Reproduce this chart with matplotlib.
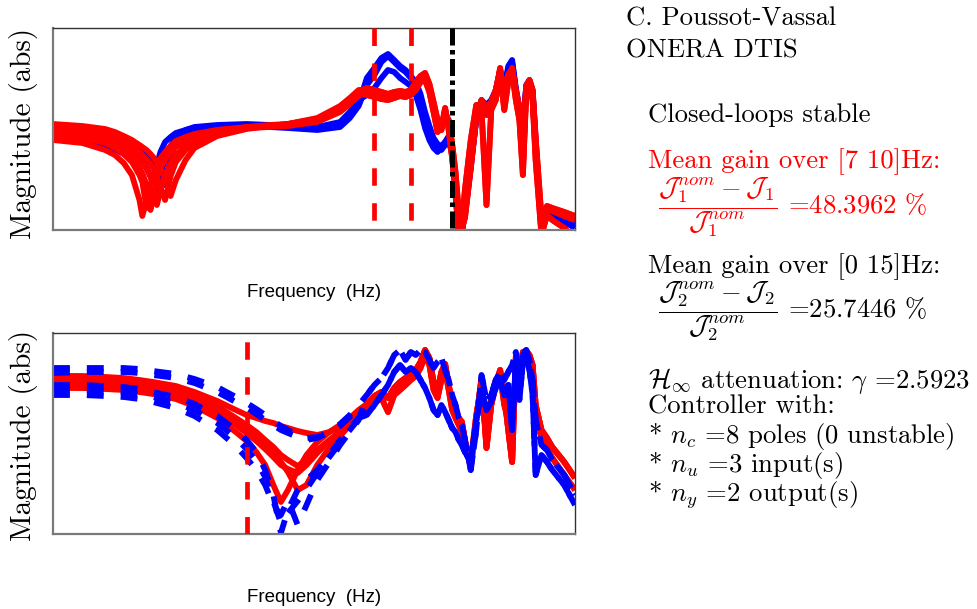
import numpy as np
import matplotlib
matplotlib.use("Agg")
import matplotlib.pyplot as plt

plt.rcParams['mathtext.fontset'] = 'cm'
plt.rcParams['axes.unicode_minus'] = False

# ---------------- data (magnitudes in dB, converted to abs) ----------------
F_LO_TOP = [0.3, 0.4, 0.5, 0.55, 0.6, 0.65, 0.7, 0.72, 0.75, 0.78, 0.8, 0.83, 0.86,
            0.9, 0.95, 1.0, 1.1, 1.2, 1.5, 2, 2.5, 3, 4, 5, 5.5, 6]
F_LO_BOT = [0.3, 0.4, 0.5, 0.6, 0.7, 0.8, 1.0, 1.2, 1.5, 1.8, 2.0, 2.2, 2.4, 2.6, 2.8,
            3.0, 3.3, 3.6, 4.0, 4.5, 5, 5.5, 6]
F_HI = [6.5, 7, 7.5, 8, 8.5, 9, 9.5, 10, 10.5, 11, 11.5, 12, 12.5, 13, 13.5, 14, 14.5,
        15, 15.5, 16, 16.5, 17, 18, 19, 20, 21, 22, 23, 24, 25, 26, 27, 28, 29, 30, 31,
        32, 33, 34, 36, 38, 40, 45, 50]

# top panel, closed-loop (red) low-frequency parts
top_red_lo_a = [-56, -57.5, -61, -63.5, -67.5, -73.5, -86, -94, -86, -78.5, -74, -69, -65,
                -62, -59, -56.5, -54.5, -53, -51, -50, -49.5, -49, -47, -42, -38, -34]
top_red_lo_b = [-53.5, -55, -57.5, -60, -63, -67, -73.5, -77, -90, -81, -76, -71, -67.5,
                -64.5, -61, -58.5, -55.5, -53.5, -51, -49.5, -49, -48.5, -46, -41, -37, -33]
top_red_lo_c = [-51, -52, -54.5, -56.5, -59, -62, -66, -67.5, -70, -74.5, -78.5, -88.5, -81,
                -73.5, -67.5, -63.5, -59, -56, -52, -49.5, -48.5, -48, -45.5, -40, -36, -32]
top_red_lo_d = [-48, -49, -50.5, -52, -54, -56, -58.5, -59.5, -61, -63, -64.5, -67, -70,
                -75, -84, -76, -66, -60, -54, -50.5, -49, -48, -45, -39, -35, -31]
top_red_lo_e = [-52, -53.5, -56, -58, -61, -64.5, -70, -72.5, -78.5, -91, -83.5, -75, -70,
                -66, -62.5, -59.5, -56.5, -54.5, -51.5, -50, -49, -48.5, -46, -40.5, -36.5, -32.5]
top_red_lo_f = [-49.5, -50.5, -52.5, -54, -56.5, -59, -62, -63.5, -65.5, -68, -70, -74, -80,
                -86, -74, -67, -61, -57.5, -52.5, -50, -49, -48, -45.5, -39.5, -35.5, -31.5]
# top panel, nominal (blue) low-frequency parts
top_blue_lo_a = [-55, -56, -58.5, -60.5, -63, -66, -71, -73.5, -78.5, -86, -78.5, -68.5, -62,
                 -57, -54.5, -52.5, -51, -50, -49, -49, -49.5, -50, -51, -49.5, -45, -39]
top_blue_lo_b = [-50, -51, -52.5, -54, -55.5, -57.5, -60, -61, -62.5, -64.5, -66, -68.5, -71.5,
                 -78.5, -65, -55, -51, -49.5, -48.5, -48, -48.5, -49, -49.5, -47, -42, -36]
top_blue_lo_c = [-52.5, -53.5, -55.5, -57, -59, -61.5, -65, -67, -70, -74, -77, -82, -73.5,
                 -65, -59, -55, -52, -50.5, -49, -48.5, -49, -49.5, -50.5, -48.5, -44, -38]
# top panel high-frequency parts
top_red_hi_1 = [-31, -32.5, -33.5, -34.5, -33.5, -32.5, -33, -32, -28.5, -25, -23.5, -30, -40,
                -49.5, -51, -41, -48.5, -61, -75, -97, -103.5, -88.5, -61, -41, -37, -43.5,
                -39, -33.5, -20, -36, -25, -20, -33.5, -43.5, -68.5, -30, -27, -33.5, -61,
                -100, -90, -91.5, -94, -96]
top_red_hi_2 = [-33.5, -34.5, -35.5, -36, -35, -34, -34.5, -33.5, -31, -27, -26, -32, -42,
                -52, -50, -40, -51, -65, -81, -103.5, -98.5, -81, -56, -38.5, -41, -88.5,
                -41, -36, -22, -41, -27, -22, -36, -46, -73.5, -32, -29, -36, -66, -103.5,
                -93.5, -96, -100, -106]
top_red_hi_3 = [-30, -31, -32, -33, -32, -31.5, -32, -31, -27, -24, -22.5, -28, -37, -46, -49,
                -43, -46, -58, -72, -92, -100, -95, -70, -45, -36, -40, -37, -31, -21, -33,
                -23, -21, -31, -40, -60, -29, -26, -31, -55, -95, -89, -90, -92, -94]
top_blue_hi_1 = [-28.5, -23.5, -17, -14, -17, -20, -22, -25, -28.5, -36, -45, -52, -57, -60,
                 -61, -58.5, -56, -63.5, -83.5, -103.5, -98.5, -91, -66, -43.5, -36, -38.5,
                 -36, -31, -21, -30, -19, -16, -30, -40, -51, -28.5, -26, -31, -56, -102.5,
                 -92, -93, -95.5, -98]
top_blue_hi_2 = [-33.5, -30, -25, -21, -22, -25, -27, -29, -33.5, -41, -50, -56, -60, -62,
                 -60, -57, -55, -61, -78.5, -100, -102, -93.5, -68.5, -46, -38, -40, -37.5,
                 -33.5, -23, -33.5, -21, -18, -32, -42, -56, -30, -27.5, -33.5, -61, -98.5,
                 -93.5, -94.5, -97, -100]
top_blue_hi_3 = [-25, -20, -15, -13, -16, -19, -21, -24, -27, -33, -42, -49, -55, -58, -59,
                 -57, -54, -60, -80, -100, -101, -92, -70, -45, -37, -39, -37, -32, -22, -31,
                 -20, -17, -31, -41, -54, -29, -26.5, -32, -58, -100, -92.5, -93.5, -96, -99]

# bottom panel low-frequency parts
bot_red_lo_a = [-21.5, -21.5, -22, -22.5, -23.5, -24.5, -26.5, -29.5, -34, -38.5, -41, -42.5,
                -44, -45, -46.5, -47.5, -49, -50, -51, -49.5, -47, -43.5, -39.5]
bot_red_lo_b = [-24.5, -24.5, -25, -25.5, -26.5, -27.5, -30, -33.5, -39.5, -45, -48.5, -52,
                -56, -60, -64.5, -69.5, -78.5, -76, -66, -57.5, -51.5, -46, -41.5]
bot_red_lo_c = [-27.5, -27.5, -28, -28.5, -29.5, -30.5, -33, -36.5, -42.5, -49.5, -54, -59.5,
                -66, -76, -84.5, -78.5, -68.5, -61, -54.5, -49.5, -46, -42.5, -38.5]
bot_red_lo_d = [-23, -23, -23.5, -24, -25, -26, -28, -31.5, -36.5, -42.5, -46, -49.5, -53.5,
                -57, -61, -63.5, -66.5, -63.5, -58.5, -53.5, -49.5, -45.5, -41]
bot_red_lo_e = [-25.5, -25.5, -26, -26.5, -27.5, -28.5, -31, -34.5, -40, -46, -50, -54, -58,
                -62, -66, -68, -70, -66, -60, -54, -49.5, -45, -40.5]
bot_blue_lo_a = [-20, -19.5, -19.5, -19.5, -20, -21, -22.5, -25, -29.5, -34.5, -37.5, -40.5,
                 -43.5, -46, -48.5, -50, -52, -53.5, -52.5, -49.5, -45.5, -41, -36]
bot_blue_lo_b = [-26, -26, -26.5, -27, -28, -29.5, -32, -35.5, -41.5, -48.5, -53.5, -59.5,
                 -68.5, -81, -100, -88.5, -78.5, -73.5, -68.5, -61, -53.5, -47.5, -42.5]
bot_blue_lo_c = [-31, -31, -31.5, -32, -33, -34.5, -37.5, -41.5, -48.5, -56.5, -62.5, -68.5,
                 -76, -86, -91, -83.5, -96, -86, -73.5, -64.5, -56, -49.5, -43.5]
bot_blue_lo_d = [-17.5, -17.5, -17.5, -17.5, -18, -19, -20.5, -23, -27, -32, -35, -38, -41,
                 -44, -46.5, -48.5, -51, -52.5, -52, -50, -46.5, -42, -37]
bot_blue_lo_e = [-28.5, -28.5, -29, -29.5, -30.5, -32, -35, -38.5, -45, -52.5, -58, -64,
                 -72, -84, -95, -90, -84, -78, -70, -62, -55, -48.5, -43]
# bottom panel high-frequency parts
bot_red_hi_1 = [-35.5, -31.5, -29.5, -32.5, -27.5, -24.5, -22.5, -20.5, -18.5, -14.5, -8.5,
                -12.5, -24.5, -28.5, -19.5, -15.5, -26, -35, -38.5, -42.5, -44.5, -53.5,
                -67.5, -43.5, -22.5, -57.5, -36, -26, -18.5, -31, -48.5, -64.5, -12, -21,
                -9.5, -9, -11, -16, -36, -48.5, -52.5, -57, -64.5, -72.5]
bot_red_hi_2 = [-38.5, -34.5, -32.5, -39.5, -31, -28.5, -26, -23.5, -21.5, -17.5, -11.5, -16,
                -28.5, -32.5, -23.5, -18.5, -28.5, -38.5, -42.5, -46, -49.5, -57.5, -64.5,
                -41, -26, -53.5, -32.5, -23.5, -21, -36, -43.5, -53.5, -16, -18.5, -12, -11,
                -13.5, -21, -41, -52.5, -57.5, -62.5, -71, -78.5]
bot_blue_hi_1 = [-31, -26, -22.5, -17.5, -11, -8.5, -13.5, -9.5, -11, -8.5, -9.5, -13.5,
                 -17.5, -14.5, -12.5, -18.5, -23.5, -31, -36, -42.5, -46, -53.5, -68.5,
                 -48.5, -21, -33.5, -31, -23.5, -19.5, -23.5, -19.5, -16, -9.5, -28.5, -11,
                 -8.5, -13.5, -23.5, -43.5, -56, -58.5, -63.5, -71, -81]
bot_blue_hi_2 = [-41, -36, -31, -26, -19.5, -16, -19.5, -17.5, -19.5, -23.5, -27.5, -32.5,
                 -38.5, -41, -36, -39.5, -43.5, -47.5, -49.5, -53.5, -56, -59.5, -64.5,
                 -43.5, -28.5, -38.5, -34.5, -27.5, -23.5, -31, -26, -48.5, -14.5, -33.5,
                 -14.5, -12.5, -18.5, -31, -71, -61, -64.5, -68.5, -76, -86]

BAND_TOP = [7, 10]      # Hz, red dashed
LIMIT_TOP = 15          # Hz, black dash-dot
BAND_BOT = [2]          # Hz, red dashed
XLIM = (0.3, 50)
YLIM_TOP_DB = (-101, 0)
YLIM_BOT_DB = (-100.5, 0)

TEXT_LINES = {
    'author': 'C. Poussot-Vassal',
    'lab': 'ONERA DTIS',
    'stable': 'Closed-loops stable',
    'gain1': 'Mean gain over [7 10]Hz:',
    'frac1': r'$\dfrac{\mathcal{J}_1^{nom}-\mathcal{J}_1}{\mathcal{J}_1^{nom}}$ =48.3962 %',
    'gain2': 'Mean gain over [0 15]Hz:',
    'frac2': r'$\dfrac{\mathcal{J}_2^{nom}-\mathcal{J}_2}{\mathcal{J}_2^{nom}}$ =25.7446 %',
    'hinf': r'$\mathcal{H}_\infty$ attenuation: $\gamma$ =2.5923',
    'ctrl': 'Controller with:',
    'nc': r'* $n_c$ =8 poles (0 unstable)',
    'nu': r'* $n_u$ =3 input(s)',
    'ny': r'* $n_y$ =2 output(s)',
}


def to_abs(db):
    return 10 ** (np.asarray(db, dtype=float) / 20.0)


W, H = 978, 609
fig = plt.figure(figsize=(W / 100, H / 100), dpi=100)


def px_axes(l, t, r, b):
    return fig.add_axes([l / W, 1 - b / H, (r - l) / W, (b - t) / H])


ax1 = px_axes(53, 28, 575, 230)
ax2 = px_axes(53, 333, 575, 534)

LW = 4.2
RED = '#ff0000'
BLUE = '#0000ff'

# top panel: nominal (blue) first, then closed-loop (red)
top_blue = [(top_blue_lo_a, top_blue_hi_1), (top_blue_lo_b, top_blue_hi_2),
            (top_blue_lo_c, top_blue_hi_3)]
top_red = [(top_red_lo_a, top_red_hi_1), (top_red_lo_b, top_red_hi_2),
           (top_red_lo_c, top_red_hi_3), (top_red_lo_d, top_red_hi_1),
           (top_red_lo_e, top_red_hi_2), (top_red_lo_f, top_red_hi_3)]
f_top = F_LO_TOP + F_HI
for lo, hi in top_blue:
    ax1.plot(f_top, to_abs(lo + hi), color=BLUE, lw=LW, solid_capstyle='butt')
for lo, hi in top_red:
    ax1.plot(f_top, to_abs(lo + hi), color=RED, lw=LW, solid_capstyle='butt')

# bottom panel
bot_red = [(bot_red_lo_a, bot_red_hi_1), (bot_red_lo_b, bot_red_hi_2),
           (bot_red_lo_c, bot_red_hi_1), (bot_red_lo_d, bot_red_hi_2),
           (bot_red_lo_e, bot_red_hi_1)]
bot_blue = [(bot_blue_lo_a, bot_blue_hi_1), (bot_blue_lo_b, bot_blue_hi_2),
            (bot_blue_lo_c, bot_blue_hi_1), (bot_blue_lo_d, bot_blue_hi_2),
            (bot_blue_lo_e, bot_blue_hi_2)]
f_bot = F_LO_BOT + F_HI
for lo, hi in bot_red:
    ax2.plot(f_bot, to_abs(lo + hi), color=RED, lw=LW, solid_capstyle='butt')
for lo, hi in bot_blue:
    ax2.plot(f_bot, to_abs(lo + hi), color=BLUE, lw=LW, dashes=(2.9, 2.9),
             dash_capstyle='butt')

for f in BAND_TOP:
    ax1.plot([f, f], [1, 0], transform=ax1.get_xaxis_transform(), color=RED,
             lw=3.4, dashes=(3.7, 3.7), dash_capstyle='butt', zorder=5)
ax1.plot([LIMIT_TOP, LIMIT_TOP], [1, 0], transform=ax1.get_xaxis_transform(),
         color='black', lw=3.6, dashes=(3.4, 0.9, 0.9, 0.9), dash_capstyle='butt', zorder=5)
for f in BAND_BOT:
    ax2.plot([f, f], [0, 1], transform=ax2.get_xaxis_transform(), color=RED,
             lw=3.4, dashes=(3.7, 3.7), dash_capstyle='butt', zorder=5)

for ax, yl in ((ax1, YLIM_TOP_DB), (ax2, YLIM_BOT_DB)):
    ax.set_xscale('log')
    ax.set_yscale('log')
    ax.set_xlim(*XLIM)
    ax.set_ylim(to_abs(yl[0]), to_abs(yl[1]))
    ax.tick_params(which='both', length=0, labelleft=False, labelbottom=False)
    for s in ('left', 'bottom'):
        ax.spines[s].set_color('#7a7a7a')
        ax.spines[s].set_linewidth(1.6)
    for s in ('top', 'right'):
        ax.spines[s].set_color('#333333')
        ax.spines[s].set_linewidth(1.0)

SERIF = 'cmr10'
SANS = 'Liberation Sans'


def ftext(x, y, s, **kw):
    fig.text(x / W, 1 - y / H, s, **kw)


ftext(314, 292, 'Frequency  (Hz)', family=SANS, fontsize=13.5, ha='center', va='center')
ftext(314, 597, 'Frequency  (Hz)', family=SANS, fontsize=13.5, ha='center', va='center')
ftext(24, 133, 'Magnitude (abs)', family=SERIF, fontsize=21, rotation=90,
      ha='center', va='center')
ftext(24, 435, 'Magnitude (abs)', family=SERIF, fontsize=21, rotation=90,
      ha='center', va='center')

TS = 19.2
ftext(626, 26, TEXT_LINES['author'], family=SERIF, fontsize=TS, va='baseline')
ftext(626, 57, TEXT_LINES['lab'], family=SERIF, fontsize=TS, va='baseline')
ftext(648, 122, TEXT_LINES['stable'], family=SERIF, fontsize=TS, va='baseline')
ftext(648, 168, TEXT_LINES['gain1'], family=SERIF, fontsize=TS, va='baseline', color=RED)
ftext(658, 207, TEXT_LINES['frac1'], family=SERIF, fontsize=TS, va='center', color=RED)
ftext(648, 273, TEXT_LINES['gain2'], family=SERIF, fontsize=TS, va='baseline')
ftext(658, 311, TEXT_LINES['frac2'], family=SERIF, fontsize=TS, va='center')
ftext(648, 388, TEXT_LINES['hinf'], family=SERIF, fontsize=TS, va='baseline')
ftext(648, 414, TEXT_LINES['ctrl'], family=SERIF, fontsize=TS, va='baseline')
ftext(648, 443, TEXT_LINES['nc'], family=SERIF, fontsize=TS, va='baseline')
ftext(648, 472, TEXT_LINES['nu'], family=SERIF, fontsize=TS, va='baseline')
ftext(648, 501, TEXT_LINES['ny'], family=SERIF, fontsize=TS, va='baseline')

fig.savefig('out.png', dpi=100)
